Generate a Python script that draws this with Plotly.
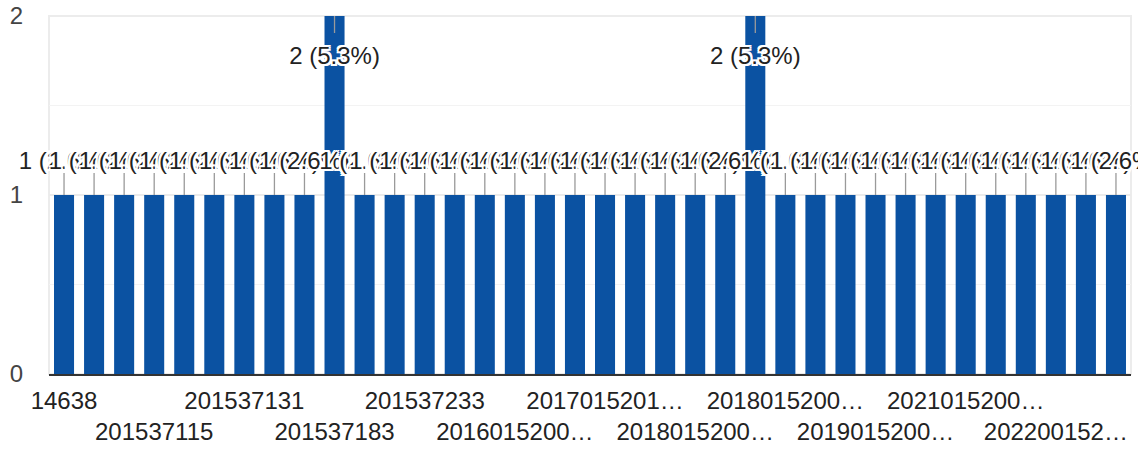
import plotly.graph_objects as go

categories = [
    "14638", "201537102", "201537108", "201537115", "201537119", "201537126",
    "201537131", "201537149", "201537167", "201537183", "201537196", "201537214",
    "201537233", "201537247", "201537259", "2016015200123", "2016015200287", "2016015200419",
    "2017015201056", "2017015201188", "2017015201302", "2018015200047", "2018015200135", "2018015200226",
    "2018015200391", "2018015200458", "2018015200563", "2019015200072", "2019015200164", "2019015200310",
    "2021015200081", "2021015200245", "2021015200377", "2022001520019", "2022001520144", "2022001520268",
]
values = [1, 1, 1, 1, 1, 1, 1, 1, 1, 2, 1, 1,
          1, 1, 1, 1, 1, 1, 1, 1, 1, 1, 1, 2,
          1, 1, 1, 1, 1, 1, 1, 1, 1, 1, 1, 1]
tick_labels = ["14638", "201537115", "201537131", "201537183", "201537233", "2016015200…",
               "2017015201…", "2018015200…", "2018015200…", "2019015200…", "2021015200…", "202200152…"]
y_ticks = [0, 1, 2]

BAR = "#0b52a2"
FONT = "Liberation Sans, Arial, sans-serif"
HALO = ("-2px -2px 0 #fff, 2px -2px 0 #fff, -2px 2px 0 #fff, 2px 2px 0 #fff, "
        "0 2px 0 #fff, 0 -2px 0 #fff, 2px 0 0 #fff, -2px 0 0 #fff")

total = sum(values)
y_max = max(y_ticks)
label_text = [f"{v} ({v / total * 100:.1f}%)" for v in values]

# label + leader line placement (above bar, or inside when no room)
lab_y, lead_x, lead_y = [], [], []
for c, v in zip(categories, values):
    if v >= y_max:
        lab_y.append(v - 0.232)
        lead_x += [c, c, None]
        lead_y += [v, v - 0.095, None]
    else:
        lab_y.append(v + 0.178)
        lead_x += [c, c, None]
        lead_y += [v, v + 0.123, None]

ticktext = [t if k % 2 == 0 else "<br>" + t for k, t in enumerate(tick_labels)]
tickvals = categories[::3]

fig = go.Figure()
fig.add_trace(go.Bar(x=categories, y=values, marker=dict(color=BAR, line=dict(width=0)),
                     hoverinfo="skip"))
fig.add_trace(go.Scatter(x=lead_x, y=lead_y, mode="lines",
                         line=dict(color="#9a9a9a", width=1.3), hoverinfo="skip",
                         cliponaxis=False))
fig.add_trace(go.Scatter(x=categories, y=lab_y, mode="text", text=label_text,
                         textposition="middle center",
                         textfont=dict(family=FONT, size=24, color="#222222", shadow=HALO),
                         hoverinfo="skip", cliponaxis=False))

fig.update_layout(
    width=1138, height=450,
    margin=dict(l=49, r=7, t=16, b=76),
    paper_bgcolor="white", plot_bgcolor="white",
    showlegend=False, bargap=1 / 3,
    font=dict(family=FONT, size=24, color="#222222"),
    xaxis=dict(type="category", categoryorder="array", categoryarray=categories,
               range=[-0.5, len(categories) - 0.5],
               tickmode="array", tickvals=tickvals, ticktext=ticktext,
               tickangle=0, showgrid=False, showline=True, linecolor="#333333",
               linewidth=2, ticks="", ticklabelstandoff=4,
               tickfont=dict(size=24, color="#222222"),
               automargin=False, fixedrange=True),
    yaxis=dict(range=[0, y_max], tickmode="array", tickvals=y_ticks,
               showgrid=True, gridcolor="#ebebeb", gridwidth=2,
               minor=dict(dtick=0.5, showgrid=True, gridcolor="#f3f3f3", gridwidth=1),
               zeroline=False, showline=False, ticks="",
               ticklabelstandoff=25, tickfont=dict(size=24, color="#444444"),
               automargin=False, fixedrange=True),
    shapes=[dict(type="rect", xref="paper", yref="paper", x0=0, x1=1, y0=0, y1=1,
                 line=dict(color="#ececec", width=2), layer="below")],
)

fig.write_html("out.html", config={"displayModeBar": False},
               post_script="document.body.style.margin='0';")
